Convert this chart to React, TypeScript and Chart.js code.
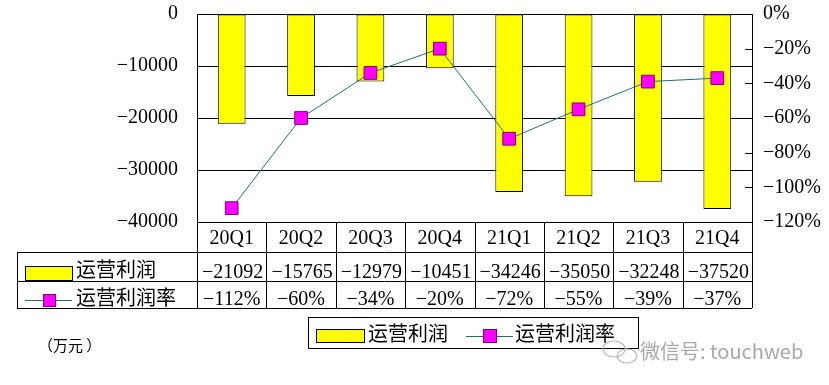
import React, { useEffect, useRef } from 'react';
import { Chart, registerables } from 'chart.js';

Chart.register(...registerables);

const categories = ['20Q1', '20Q2', '20Q3', '20Q4', '21Q1', '21Q2', '21Q3', '21Q4'];
const operatingProfit = [-21092, -15765, -12979, -10451, -34246, -35050, -32248, -37520];
const operatingMargin = [-112, -60, -34, -20, -72, -55, -39, -37];
const seriesNames = ['运营利润', '运营利润率'];
const unitLabel = '（万元 ）';
const watermark = '微信号: touchweb';

const SERIF = "'Liberation Serif', 'DejaVu Serif', serif";
const CJK = "'Noto Sans CJK SC', 'Noto Sans', sans-serif";
const YELLOW = '#FFFF00';
const MAGENTA = '#FF00FF';
const MARKER_BORDER = '#800080';
const LINE = '#1f6f6f';

const fmt = (v: number) => (v < 0 ? '\u2212' + Math.abs(v) : String(v));

const tablePlugin = {
  id: 'dataTable',
  afterDraw(chart: any) {
    const { ctx, chartArea: ca, scales } = chart;
    const x = scales.x;
    const y1 = scales.y1;
    const n = categories.length;
    const colW = (ca.right - ca.left) / n;
    const tableLeft = 17;
    const r1 = 252, r2 = 281, r3 = 308;
    const h = (v: number) => Math.round(v) + 0.5;
    ctx.save();
    ctx.strokeStyle = '#000';
    ctx.lineWidth = 1;
    ctx.beginPath();
    [r1, r2, r3].forEach((yy) => {
      ctx.moveTo(tableLeft, h(yy));
      ctx.lineTo(ca.right, h(yy));
    });
    ctx.moveTo(h(tableLeft), r1);
    ctx.lineTo(h(tableLeft), r3);
    for (let i = 0; i <= n; i++) {
      const xx = i < n ? x.getPixelForValue(i) - colW / 2 : x.getPixelForValue(n - 1) + colW / 2;
      ctx.moveTo(h(xx), ca.bottom);
      ctx.lineTo(h(xx), r3);
    }
    y1.ticks.forEach((t: any) => {
      const yy = y1.getPixelForValue(t.value);
      ctx.moveTo(ca.right - 7, h(yy));
      ctx.lineTo(ca.right, h(yy));
    });
    ctx.stroke();

    ctx.fillStyle = '#000';
    ctx.textAlign = 'center';
    ctx.textBaseline = 'alphabetic';
    ctx.font = `20px ${SERIF}`;
    categories.forEach((c, i) => {
      const cx = x.getPixelForValue(i);
      ctx.fillText(c, cx, 244);
      ctx.fillText(fmt(operatingProfit[i]), cx + 1, 278);
      ctx.fillText(fmt(operatingMargin[i]) + '%', cx, 305);
    });

    ctx.fillStyle = YELLOW;
    ctx.fillRect(25, 266, 47, 14);
    ctx.strokeRect(25.5, 266.5, 47, 14);
    ctx.strokeStyle = LINE;
    ctx.beginPath();
    ctx.moveTo(25, 300.5);
    ctx.lineTo(72, 300.5);
    ctx.stroke();
    ctx.fillStyle = MAGENTA;
    ctx.strokeStyle = MARKER_BORDER;
    ctx.fillRect(43, 294, 13, 13);
    ctx.strokeRect(43.5, 294.5, 12, 12);

    ctx.fillStyle = '#000';
    ctx.textAlign = 'left';
    ctx.font = `20px ${CJK}`;
    ctx.fillText(seriesNames[0], 76, 277);
    ctx.fillText(seriesNames[1], 76, 305);

    ctx.strokeStyle = '#000';
    ctx.fillStyle = '#fff';
    ctx.fillRect(308, 317, 330, 31);
    ctx.strokeRect(308.5, 317.5, 330, 31);
    ctx.fillStyle = YELLOW;
    ctx.fillRect(316, 329, 48, 13);
    ctx.strokeRect(316.5, 329.5, 48, 13);
    ctx.strokeStyle = LINE;
    ctx.beginPath();
    ctx.moveTo(466, 336.5);
    ctx.lineTo(513, 336.5);
    ctx.stroke();
    ctx.fillStyle = MAGENTA;
    ctx.strokeStyle = MARKER_BORDER;
    ctx.fillRect(483, 329, 14, 14);
    ctx.strokeRect(483.5, 329.5, 13, 13);
    ctx.fillStyle = '#000';
    ctx.font = `20px ${CJK}`;
    ctx.fillText(seriesNames[0], 368, 341);
    ctx.fillText(seriesNames[1], 515, 341);

    ctx.font = `15px ${CJK}`;
    ctx.fillText(unitLabel, 38, 351);

    ctx.strokeStyle = '#b8b8b8';
    ctx.lineWidth = 1.2;
    ctx.beginPath();
    ctx.ellipse(614, 349, 11, 8, 0, 0, Math.PI * 2);
    ctx.stroke();
    ctx.beginPath();
    ctx.ellipse(627, 356, 10, 7, 0, 0, Math.PI * 2);
    ctx.stroke();
    ctx.fillStyle = '#a8a8a8';
    ctx.font = `20px ${CJK}`;
    ctx.fillText(watermark, 640, 359);
    ctx.restore();
  },
};

const noPad = (s: any) => {
  s.paddingTop = 0;
  s.paddingBottom = 0;
};

export default function App() {
  const ref = useRef<HTMLCanvasElement | null>(null);
  useEffect(() => {
    if (!ref.current) return;
    const chart = new Chart(ref.current, {
      type: 'bar',
      data: {
        labels: categories,
        datasets: [
          {
            type: 'line',
            label: seriesNames[1],
            data: operatingMargin,
            yAxisID: 'y1',
            order: 0,
            borderColor: LINE,
            borderWidth: 1,
            pointStyle: 'rect',
            pointRadius: 9,
            pointBackgroundColor: MAGENTA,
            pointBorderColor: MARKER_BORDER,
            pointBorderWidth: 1,
            tension: 0,
          } as any,
          {
            type: 'bar',
            label: seriesNames[0],
            data: operatingProfit,
            yAxisID: 'y',
            order: 1,
            backgroundColor: YELLOW,
            borderColor: '#000',
            borderWidth: 1,
            borderSkipped: false,
            barPercentage: 0.4,
            categoryPercentage: 1,
          } as any,
        ],
      },
      options: {
        responsive: false,
        animation: false,
        devicePixelRatio: 1,
        layout: { padding: { top: 14, bottom: 163, left: 0, right: 0 } },
        plugins: { legend: { display: false }, tooltip: { enabled: false } },
        scales: {
          x: { display: false, offset: true },
          y: {
            position: 'left',
            min: -40000,
            max: 0,
            ticks: {
              stepSize: 10000,
              padding: 19,
              color: '#000',
              font: { family: SERIF, size: 20 },
              callback: (v: any) => fmt(Number(v)),
            },
            grid: { color: '#000', lineWidth: 1, drawTicks: false },
            border: { display: true, color: '#000', width: 1 },
            afterFit: (s: any) => {
              s.width = 197;
              noPad(s);
            },
          },
          y1: {
            position: 'right',
            min: -120,
            max: 0,
            ticks: {
              stepSize: 20,
              padding: 11,
              color: '#000',
              font: { family: SERIF, size: 20 },
              callback: (v: any) => fmt(Number(v)) + '%',
            },
            grid: { display: false, drawTicks: false },
            border: { display: true, color: '#000', width: 1 },
            afterFit: (s: any) => {
              s.width = 77;
              noPad(s);
            },
          },
        },
      } as any,
      plugins: [tablePlugin],
    });
    return () => chart.destroy();
  }, []);
  return (
    <div style={{ position: 'fixed', left: 0, top: 0, width: 829, height: 385, background: '#fff' }}>
      <canvas ref={ref} width={829} height={385} style={{ width: 829, height: 385, display: 'block' }} />
    </div>
  );
}
